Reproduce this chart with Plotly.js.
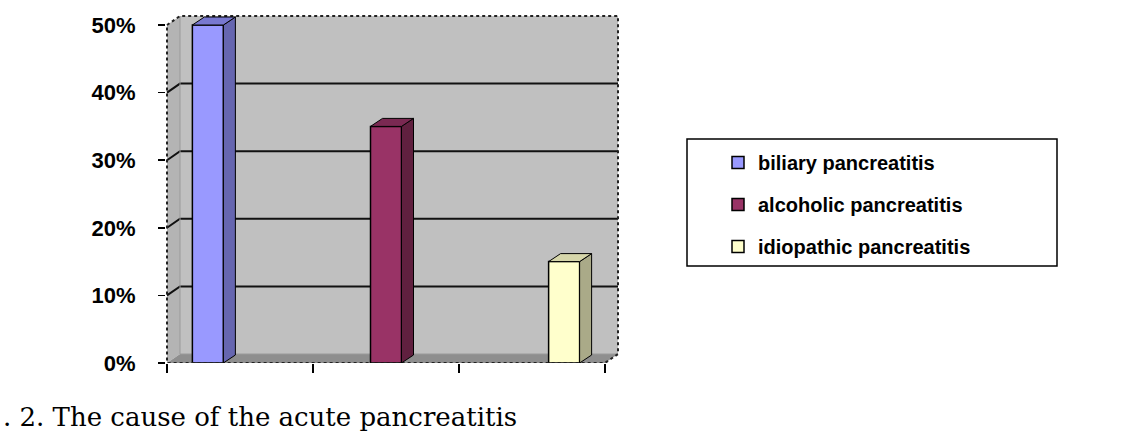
<!DOCTYPE html>
<html>
<head>
<meta charset="utf-8">
<script src="https://cdn.plot.ly/plotly-3.0.1.min.js"></script>
<style>html,body{margin:0;padding:0;background:#fff;}#chart{width:1145px;height:438px;}</style>
</head>
<body>
<div id="chart"></div>
<script>
// ---- data ----
const categories = ['biliary pancreatitis', 'alcoholic pancreatitis', 'idiopathic pancreatitis'];
const values = [50, 35, 15];
const yTickVals = [0, 10, 20, 30, 40, 50];
const yTickText = ['0%', '10%', '20%', '30%', '40%', '50%'];
const caption = '. 2. The cause of the acute pancreatitis';

// ---- styles ----
const frontColors = ['#9999FF', '#993366', '#FFFFCC'];
const sideColors  = ['#6666B0', '#60203F', '#AAAA88'];
const topColors   = ['#7878D0', '#7A2952', '#D6D6AA'];

// ---- geometry (pixels) ----
const W = 1145, H = 438;
const frontL = 167, frontR = 605, zeroPx = 363, fiftyPx = 25;
const plotL = 166, plotR = 620, plotT = 15, plotB = 363;
const unitY = (zeroPx - fiftyPx) / 50;      // px per 1%
const unitX = (frontR - frontL) / 3;        // px per category
const xRange = [-0.5 - (frontL - plotL) / unitX, -0.5 + (plotR - frontL) / unitX];
const yRange = [0, (plotB - plotT) / unitY];
const dxW = 13 / unitX, dyW = 9 / unitY;   // wall depth in data units
const dxB = 12 / unitX, dyB = 8 / unitY;   // bar depth in data units
const barWidth = 31 / unitX;
const slot = 0.22;
const xL = -0.5, xR = 2.5, yTop = 50;

const traces = categories.map((name, i) => ({
  type: 'bar',
  name: name,
  x: [i],
  y: [values[i]],
  width: [barWidth],
  offset: [(i - 1) * slot - barWidth / 2],
  marker: { color: frontColors[i], line: { color: '#000', width: 1.5 } },
  legendgroup: 'g' + i,
  hoverinfo: 'skip'
}));

const shapes = [];
const P = (pts) => 'M ' + pts.map(p => p[0] + ',' + p[1]).join(' L ') + ' Z';
const L = (pts) => 'M ' + pts.map(p => p[0] + ',' + p[1]).join(' L ');

// back wall
shapes.push({ type: 'rect', xref: 'x', yref: 'y', layer: 'below',
  x0: xL + dxW, x1: xR + dxW, y0: dyW, y1: yTop + dyW,
  fillcolor: '#C0C0C0', line: { width: 0 } });
// left wall
shapes.push({ type: 'path', xref: 'x', yref: 'y', layer: 'below',
  path: P([[xL, 0], [xL + dxW, dyW], [xL + dxW, yTop + dyW], [xL, yTop]]),
  fillcolor: '#B4B4B4', line: { width: 0 } });
// floor
shapes.push({ type: 'path', xref: 'x', yref: 'y', layer: 'below',
  path: P([[xL, 0], [xR, 0], [xR + dxW, dyW], [xL + dxW, dyW]]),
  fillcolor: '#8E8E8E', line: { width: 0 } });
// gridlines on back + left wall
yTickVals.filter(v => v > 0 && v < yTop).forEach(v => {
  shapes.push({ type: 'path', xref: 'x', yref: 'y', layer: 'below',
    path: L([[xL, v], [xL + dxW, v + dyW], [xR + dxW, v + dyW]]),
    line: { color: '#111', width: 2 } });
});
// wall/floor edge where walls meet
shapes.push({ type: 'path', xref: 'x', yref: 'y', layer: 'below',
  path: L([[xL + dxW, yTop + dyW], [xL + dxW, dyW], [xR + dxW, dyW]]),
  line: { color: '#9A9A9A', width: 1 } });
// dotted outer border
shapes.push({ type: 'path', xref: 'x', yref: 'y', layer: 'above',
  path: L([[xL, yTop], [xL + dxW, yTop + dyW], [xR + dxW, yTop + dyW], [xR + dxW, dyW], [xR, 0], [xL, 0], [xL, yTop]]),
  line: { color: '#222', width: 2, dash: 'dot' } });

// 3D faces for bars
traces.forEach((t, i) => {
  const v = values[i];
  const xl = t.x[0] + t.offset[0];
  const xr = xl + t.width[0];
  shapes.push({ type: 'path', xref: 'x', yref: 'y', layer: 'above',
    path: P([[xr, 0], [xr + dxB, dyB], [xr + dxB, v + dyB], [xr, v]]),
    fillcolor: sideColors[i], line: { color: '#000', width: 1 } });
  shapes.push({ type: 'path', xref: 'x', yref: 'y', layer: 'above',
    path: P([[xl, v], [xr, v], [xr + dxB, v + dyB], [xl + dxB, v + dyB]]),
    fillcolor: topColors[i], line: { color: '#000', width: 1 } });
});

// legend box (paper coords from pixel box)
const plotW = plotR - plotL, plotH = plotB - plotT;
const px2paperX = (px) => (px - plotL) / plotW;
const px2paperY = (py) => (plotB - py) / plotH;
shapes.push({ type: 'rect', xref: 'paper', yref: 'paper',
  x0: px2paperX(687), x1: px2paperX(1057), y0: px2paperY(266), y1: px2paperY(139),
  fillcolor: 'rgba(0,0,0,0)', line: { color: '#000', width: 1.5 } });

const layout = {
  width: W, height: H,
  margin: { l: plotL, r: W - plotR, t: plotT, b: H - plotB, pad: 0 },
  paper_bgcolor: '#fff',
  plot_bgcolor: 'rgba(0,0,0,0)',
  barmode: 'overlay',
  showlegend: true,
  legend: {
    xref: 'container', yref: 'container',
    x: 718 / W, y: 1 - 143 / H, xanchor: 'left', yanchor: 'top',
    bgcolor: 'rgba(0,0,0,0)', borderwidth: 0,
    traceorder: 'grouped', tracegroupgap: 13,
    font: { family: 'Liberation Sans, Arial, sans-serif', size: 20, weight: 'bold', color: '#000' }
  },
  xaxis: {
    range: xRange, showgrid: false, zeroline: false, showline: false,
    tickmode: 'array', tickvals: [-0.5, 0.5, 1.5, 2.5], ticktext: ['', '', '', ''],
    ticks: 'outside', ticklen: 9, tickwidth: 1.5, tickcolor: '#000', fixedrange: true
  },
  yaxis: {
    range: yRange, showgrid: false, zeroline: false, showline: false,
    tickmode: 'array', tickvals: yTickVals, ticktext: yTickText,
    ticks: 'outside', ticklen: 7, tickwidth: 1.5, tickcolor: '#000',
    ticklabelstandoff: 18,
    tickfont: { family: 'Liberation Sans, Arial, sans-serif', size: 22, weight: 'bold', color: '#000' },
    fixedrange: true
  },
  shapes: shapes,
  annotations: [{
    xref: 'paper', yref: 'paper', x: px2paperX(1), y: px2paperY(434),
    xanchor: 'left', yanchor: 'bottom', showarrow: false, text: caption,
    font: { family: 'DejaVu Serif, serif', size: 26, color: '#000' }
  }]
};

Plotly.newPlot('chart', traces, layout, { displayModeBar: false, staticPlot: true });
</script>
</body>
</html>
